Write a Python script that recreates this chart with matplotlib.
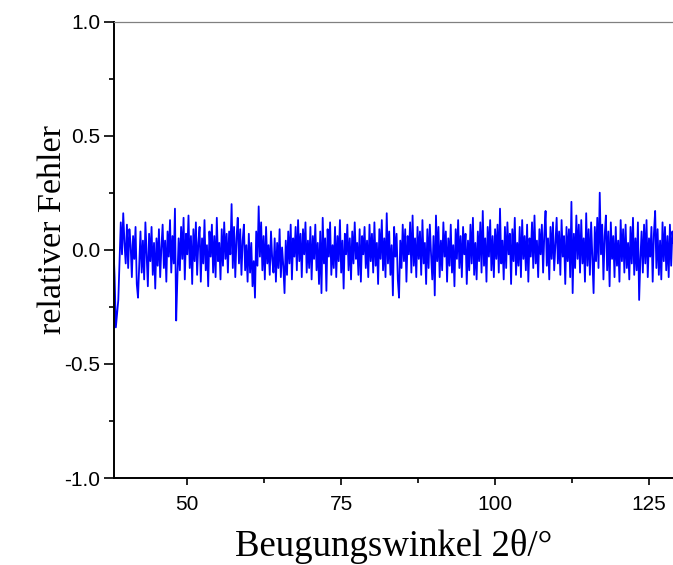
import numpy as np
import matplotlib
matplotlib.use("Agg")
import matplotlib.pyplot as plt
from matplotlib.ticker import MultipleLocator

# --- data: relative error, every 0.2 deg from 38.0 to 129.0 ---
x_start = 38.0
x_step = 0.2
rel_error = [
    0.02, -0.12, -0.34, -0.28, -0.22, -0.05, 0.12, -0.02, 0.16, 0.03,
    -0.06, 0.11, -0.08, 0.09, 0.02, -0.12, 0.06, -0.04, 0.10, -0.15,
    -0.21, -0.06, 0.08, -0.10, 0.04, -0.13, 0.12, -0.02, -0.16, 0.07,
    -0.05, 0.10, -0.11, 0.03, -0.17, 0.05, -0.07, 0.09, -0.12, 0.01,
    0.11, -0.08, 0.04, -0.14, 0.08, -0.03, 0.13, -0.10, 0.06, -0.06,
    0.18, -0.31, -0.12, 0.05, -0.09, 0.10, -0.04, 0.14, -0.13, 0.07,
    -0.02, 0.15, -0.08, 0.06, -0.15, 0.09, -0.05, 0.12, -0.11, 0.03,
    0.10, -0.14, 0.05, -0.06, 0.13, -0.09, 0.02, -0.16, 0.08, -0.03,
    0.11, -0.10, 0.06, -0.12, 0.14, -0.05, 0.03, -0.13, 0.09, -0.07,
    0.12, -0.04, 0.07, -0.10, 0.08, -0.02, 0.20, -0.08, 0.10, -0.12,
    0.05, 0.14, -0.06, 0.09, -0.11, 0.04, 0.11, -0.09, 0.02, -0.14,
    0.07, -0.10, 0.03, -0.16, -0.05, -0.21, 0.08, -0.07, 0.19, -0.03,
    0.12, -0.09, 0.06, -0.13, 0.10, -0.06, 0.02, -0.11, 0.08, -0.04,
    -0.10, 0.05, -0.14, 0.03, -0.08, 0.09, -0.12, 0.01, -0.07, -0.19,
    0.04, -0.11, 0.08, -0.06, 0.11, -0.13, 0.05, -0.03, 0.10, -0.09,
    0.13, -0.05, 0.07, -0.12, 0.09, -0.02, 0.12, -0.10, 0.04, -0.08,
    0.10, -0.13, 0.06, -0.04, 0.11, -0.09, 0.03, -0.15, 0.08, -0.19,
    0.14, -0.06, 0.05, -0.18, 0.09, -0.03, 0.12, -0.11, 0.02, -0.08,
    0.10, -0.12, 0.06, -0.05, 0.13, -0.10, 0.04, -0.17, 0.07, -0.02,
    0.11, -0.09, 0.05, -0.13, 0.08, -0.06, 0.12, -0.04, 0.03, -0.11,
    0.09, -0.14, 0.06, -0.02, 0.10, -0.08, 0.04, -0.12, 0.11, -0.05,
    0.07, -0.10, 0.12, -0.07, 0.03, -0.15, 0.09, -0.04, 0.13, -0.09,
    0.05, -0.12, 0.16, -0.06, 0.08, -0.11, 0.02, -0.20, 0.10, -0.03,
    0.07, -0.13, -0.21, 0.04, -0.08, 0.11, -0.05, 0.09, -0.14, 0.06,
    -0.02, 0.12, -0.10, 0.15, -0.07, 0.05, -0.12, 0.10, -0.04, 0.08,
    -0.11, 0.13, -0.06, 0.03, -0.15, 0.09, -0.08, 0.11, -0.02, -0.13,
    0.06, -0.20, 0.15, -0.05, 0.10, -0.12, 0.04, -0.09, 0.12, -0.03,
    0.08, -0.14, 0.05, -0.07, 0.11, -0.10, 0.02, -0.16, 0.09, -0.04,
    0.13, -0.08, 0.06, -0.12, 0.10, -0.02, 0.07, -0.15, 0.04, -0.09,
    0.11, -0.06, 0.14, -0.11, 0.03, -0.13, 0.08, -0.05, 0.12, -0.10,
    0.17, -0.07, 0.05, -0.14, 0.10, -0.03, 0.13, -0.09, 0.06, -0.12,
    0.09, -0.04, 0.11, -0.10, 0.18, -0.06, 0.04, -0.13, 0.10, -0.08,
    0.12, -0.02, 0.07, -0.15, 0.09, -0.05, 0.14, -0.11, 0.03, -0.07,
    0.10, -0.12, 0.13, -0.04, 0.06, -0.09, 0.11, -0.14, 0.05, -0.03,
    0.12, -0.08, 0.15, -0.06, 0.04, -0.12, 0.09, -0.02, 0.11, -0.10,
    0.07, 0.17, -0.07, 0.05, -0.13, 0.10, -0.04, 0.12, -0.09, 0.03,
    0.14, -0.06, 0.08, -0.11, 0.13, -0.03, 0.06, -0.15, 0.10, -0.05,
    0.09, -0.12, 0.21, -0.19, 0.07, -0.08, 0.15, -0.04, 0.11, -0.10,
    0.13, -0.06, 0.05, -0.14, 0.16, -0.07, 0.09, -0.11, 0.12, -0.03,
    -0.19, 0.10, -0.05, 0.14, -0.08, 0.25, -0.02, 0.11, -0.13, 0.06,
    0.15, -0.09, 0.08, -0.16, 0.12, -0.04, 0.06, -0.12, 0.10, -0.07,
    0.04, -0.14, 0.13, -0.05, 0.09, -0.10, 0.11, -0.08, 0.03, -0.13,
    0.10, -0.06, 0.14, -0.11, 0.05, -0.09, 0.12, -0.22, -0.04, 0.08,
    -0.10, 0.11, -0.06, 0.13, -0.12, 0.05, -0.03, 0.10, -0.14, 0.07,
    0.17, -0.08, 0.09, -0.11, 0.04, -0.13, 0.12, -0.05, 0.10, -0.09,
    0.06, -0.12, 0.11, -0.07, 0.08, 0.03,
]
angle = x_start + x_step * np.arange(len(rel_error))

x_ticks = [50, 75, 100, 125]
y_ticks = [-1.0, -0.5, 0.0, 0.5, 1.0]

# --- figure ---
fig = plt.figure(figsize=(6.73, 5.65), dpi=100)
ax = fig.add_axes([114 / 673, 87 / 565, 1 - 114 / 673, (478 - 21.5) / 565])

ax.plot(angle, rel_error, color="#0000FF", lw=1.3)

ax.set_xlim(38.1, 128.9)
ax.set_ylim(-1.0, 1.0)
ax.set_xticks(x_ticks)
ax.set_yticks(y_ticks)
ax.set_yticklabels([f"{v:.1f}" for v in y_ticks])
ax.xaxis.set_minor_locator(MultipleLocator(12.5))
ax.yaxis.set_minor_locator(MultipleLocator(0.25))

ax.tick_params(which="major", direction="out", length=5, width=1.2,
               labelsize=15, pad=7)
ax.tick_params(axis="y", which="major", length=7, pad=3)
ax.tick_params(which="minor", direction="out", length=3.5, width=1.2)
for lab in ax.get_xticklabels() + ax.get_yticklabels():
    lab.set_fontfamily("Liberation Sans")

ax.spines["right"].set_visible(False)
ax.spines["top"].set_color("#808080")
ax.spines["top"].set_linewidth(0.9)
ax.spines["left"].set_linewidth(1.4)
ax.spines["bottom"].set_linewidth(1.4)

ax.set_xlabel("Beugungswinkel 2θ/°", fontfamily="Liberation Serif",
              fontsize=26.5, labelpad=11)
ax.set_ylabel("relativer Fehler", fontfamily="Liberation Serif",
              fontsize=24.5)
ax.yaxis.set_label_coords(-0.083, 0.544)

fig.savefig("out.png", dpi=100)
